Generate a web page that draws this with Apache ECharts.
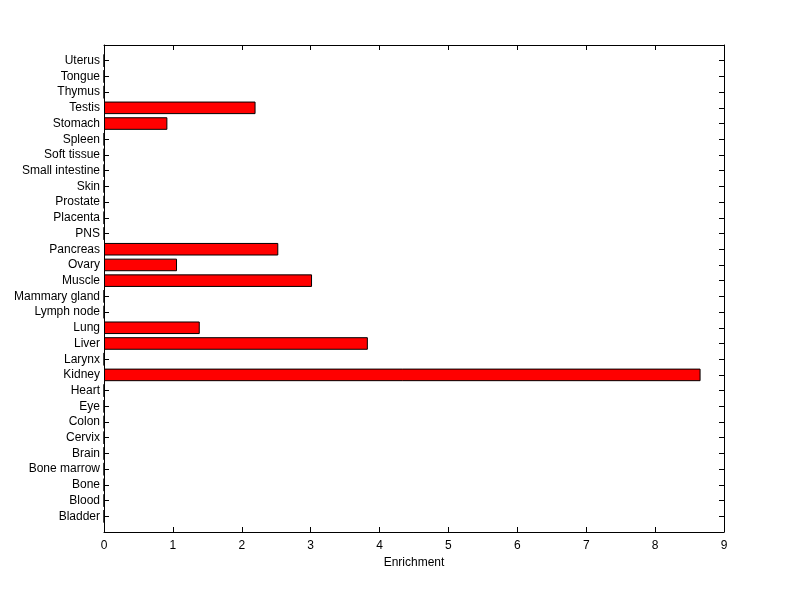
<!DOCTYPE html>
<html>
<head>
<meta charset="utf-8">
<script src="https://cdn.jsdelivr.net/npm/echarts@6/dist/echarts.min.js"></script>
<style>
  html, body { margin: 0; padding: 0; background: #fff; }
  #chart { width: 800px; height: 599px; }
</style>
</head>
<body>
<div id="chart"></div>
<script>
// tissues, bottom to top
const tissues = ['Bladder', 'Blood', 'Bone', 'Bone marrow', 'Brain', 'Cervix', 'Colon', 'Eye', 'Heart',
  'Kidney', 'Larynx', 'Liver', 'Lung', 'Lymph node', 'Mammary gland', 'Muscle', 'Ovary', 'Pancreas',
  'PNS', 'Placenta', 'Prostate', 'Skin', 'Small intestine', 'Soft tissue', 'Spleen', 'Stomach',
  'Testis', 'Thymus', 'Tongue', 'Uterus']
const enrichment = [0, 0, 0, 0, 0, 0, 0, 0, 0,
  8.66, 0, 3.83, 1.39, 0, 0, 3.02, 1.06, 2.53,
  0, 0, 0, 0, 0, 0, 0, 0.92,
  2.2, 0, 0, 0]
const xTicks = [0, 1, 2, 3, 4, 5, 6, 7, 8, 9]

// pad with an empty slot at each end so the categories sit at 1..30 of 0..31
const cats = [''].concat(tissues, [''])
const vals = [null].concat(enrichment, [null])

const font = 'Liberation Sans'
const chart = echarts.init(document.getElementById('chart'))

const yAxisBase = {
  type: 'category',
  data: cats,
  boundaryGap: false,
  axisLine: { show: true, onZero: false, lineStyle: { color: '#000', width: 1 } },
  axisTick: { show: true, inside: true, length: 5, lineStyle: { color: '#000' } },
  splitLine: { show: false }
}
const xAxisBase = {
  type: 'value',
  min: 0,
  max: 9,
  interval: 1,
  axisLine: { show: true, onZero: false, lineStyle: { color: '#000', width: 1 } },
  axisTick: { show: true, inside: true, length: 5, lineStyle: { color: '#000' } },
  splitLine: { show: false }
}

chart.setOption({
  backgroundColor: '#fff',
  animation: false,
  grid: { left: 104, right: 76, top: 45, bottom: 67 },
  xAxis: [
    Object.assign({}, xAxisBase, {
      position: 'bottom',
      name: 'Enrichment',
      nameLocation: 'middle',
      nameGap: 25,
      nameTextStyle: { color: '#000', fontFamily: font, fontSize: 12 },
      axisLabel: {
        color: '#000', fontFamily: font, fontSize: 12, margin: 8,
        formatter: v => xTicks.includes(v) ? String(v) : ''
      }
    }),
    Object.assign({}, xAxisBase, { position: 'top', axisLabel: { show: false } })
  ],
  yAxis: [
    Object.assign({}, yAxisBase, {
      position: 'left',
      axisLabel: { color: '#000', fontFamily: font, fontSize: 12, margin: 4, interval: 0 }
    }),
    Object.assign({}, yAxisBase, { position: 'right', axisLabel: { show: false } })
  ],
  series: [{
    type: 'bar',
    xAxisIndex: 0,
    yAxisIndex: 0,
    data: vals,
    barWidth: '80%',
    itemStyle: { color: '#ff0000', borderColor: '#000', borderWidth: 1 }
  }]
})
</script>
</body>
</html>
